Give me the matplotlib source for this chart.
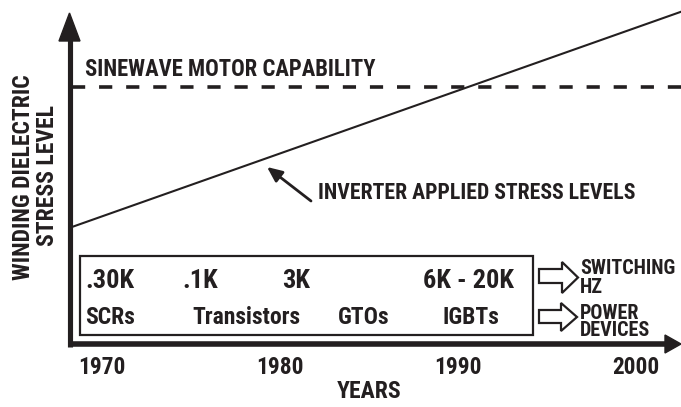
import matplotlib
matplotlib.use("Agg")
import matplotlib.pyplot as plt
from matplotlib.patches import Polygon, Rectangle
from matplotlib.transforms import Affine2D

# ---- data ----
tick_years = [1970, 1980, 1990, 2000]
sinewave_capability = 100.0          # dashed level (arbitrary stress units)
inverter_years = [1968.3, 2002.5]
inverter_stress = [45.5, 129.2]
switching_hz = ['.30K', '.1K', '3K', '6K - 20K']
power_devices = ['SCRs', 'Transistors', 'GTOs', 'IGBTs']

# ---- layout ----
W, H = 681, 407
fig = plt.figure(figsize=(W / 100, H / 100), dpi=100)
ax = fig.add_axes([0, 0, 1, 1])
ax.set_xlim(1964.27, 2002.53)
ax.set_ylim(-24.51, 133.85)
ax.axis('off')

INK = '#231f20'
FONT = ['Roboto Condensed', 'Encode Sans Condensed', 'DejaVu Sans']
plt.rcParams['lines.scale_dashes'] = False

# pixel transform (origin top-left) for decorations
P = Affine2D().scale(1, -1).translate(0, H)


def txt(x, y, s, size=13, ha='left', va='center', **kw):
    fig.text(x, y, s, transform=P, ha=ha, va=va, fontsize=size,
             fontweight='bold', color=INK, family=FONT, **kw)


# axes with arrows (pixel positions)
ax.add_line(plt.Line2D([70, 70], [347, 38], transform=P, color=INK, lw=3.7,
                       solid_capstyle='butt'))
fig.patches.append(Polygon([(59, 41), (80, 41), (69.5, 13)], closed=True,
                           transform=P, color=INK))
ax.add_line(plt.Line2D([67.5, 668], [344, 344], transform=P, color=INK, lw=4.0,
                       solid_capstyle='butt'))
fig.patches.append(Polygon([(665, 335), (665, 353), (681, 344)], closed=True,
                           transform=P, color=INK))

# sinewave capability (dashed)
ax.plot([1968.32, 2002.53], [sinewave_capability, sinewave_capability],
        color=INK, lw=2.6, dashes=(9.5, 10.0), solid_capstyle='butt',
        dash_capstyle='butt')
txt(85, 69, 'SINEWAVE MOTOR CAPABILITY', size=16.3)

# inverter applied stress
ax.plot(inverter_years, inverter_stress, color=INK, lw=1.5)
ax.annotate('', xy=(267, 167), xytext=(311, 201), xycoords=P, textcoords=P,
            arrowprops=dict(arrowstyle='-|>,head_length=0.9,head_width=0.4',
                            color=INK, lw=2.0, shrinkA=0, shrinkB=0))
txt(318, 193, 'INVERTER APPLIED STRESS LEVELS', size=15.7)

# y label
txt(24, 177, 'WINDING DIELECTRIC', size=17, ha='center', rotation=90)
txt(47, 176, 'STRESS LEVEL', size=17, ha='center', rotation=90)

# x ticks
for yr in tick_years:
    ax.text(yr, -9.0, str(yr), ha='center', va='center', fontsize=16.8,
            fontweight='bold', color=INK, family=FONT)
txt(369, 392, 'YEARS', size=17, ha='center')

# box
fig.patches.append(Rectangle((80, 256), 453, 79, transform=P, fill=False,
                             edgecolor=INK, lw=1.6))
hz_x = [85, 182, 282, 423]
dev_x = [85, 192, 338, 442]
for s, x in zip(switching_hz, hz_x):
    txt(x, 281, s, size=19)
for s, x in zip(power_devices, dev_x):
    txt(x, 318, s, size=17)

# hollow arrows
def hollow(y0, y1, s0, s1, x0=539, xh=562, xt=578):
    ym = (y0 + y1) / 2
    pts = [(x0, s0), (xh, s0), (xh, y0), (xt, ym), (xh, y1), (xh, s1), (x0, s1)]
    fig.patches.append(Polygon(pts, closed=True, transform=P, facecolor='white',
                               edgecolor=INK, lw=1.6, joinstyle='miter'))

hollow(262, 293, 269, 283)
hollow(303, 331, 310, 323, xh=561, xt=577)
txt(580, 278, 'SWITCHING\nHZ', size=14.5, linespacing=0.95)
txt(580, 322, 'POWER\nDEVICES', size=14.5, linespacing=0.88)

fig.savefig('out.png', dpi=100)
